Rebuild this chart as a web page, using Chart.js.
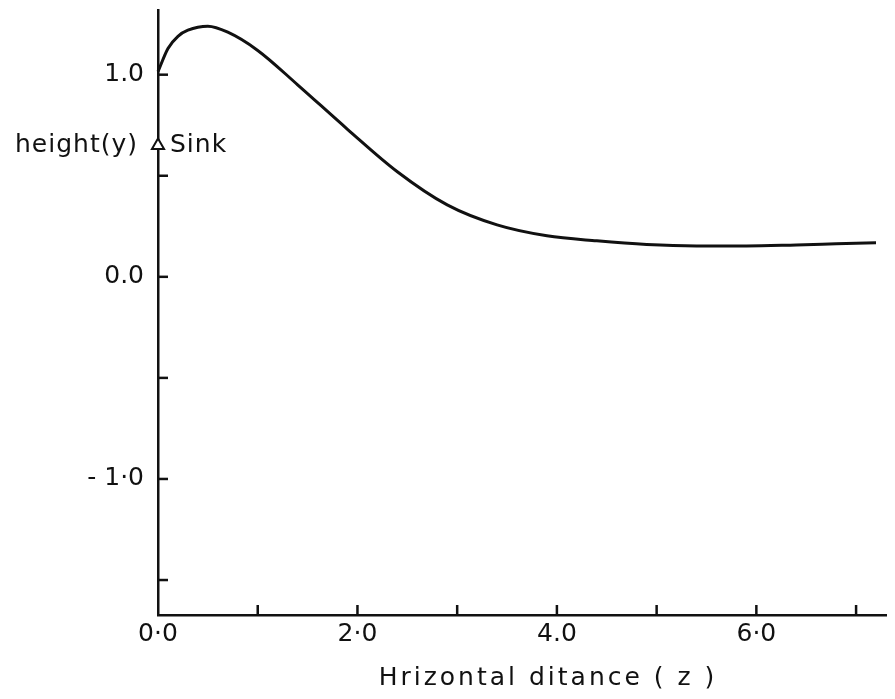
<!DOCTYPE html>
<html>
<head>
<meta charset="utf-8">
<script src="https://cdn.jsdelivr.net/npm/chart.js@4.4.1/dist/chart.umd.min.js"></script>
<style>
  html, body { margin: 0; padding: 0; background: #fff; }
  canvas { display: block; }
</style>
</head>
<body>
<canvas id="myChart" width="895" height="699"></canvas>
<script>
// curve
const zValues = [0, 0.1, 0.2, 0.3, 0.5, 0.7, 1.0, 1.4, 1.9, 2.4, 2.9, 3.4, 3.9, 4.4, 4.9, 5.4, 5.9, 6.4, 6.8, 7.2];
const yValues = [1.015, 1.13, 1.19, 1.22, 1.24, 1.21, 1.12, 0.95, 0.73, 0.52, 0.356, 0.257, 0.203, 0.178, 0.16, 0.153, 0.153, 0.158, 0.163, 0.168];

// sink marker on the y axis
const sinkPoint = [{ x: 0, y: 0.65 }];

// tick labels
const xLabels = { 0: '0·0', 2: '2·0', 4: '4.0', 6: '6·0' };
const yLabels = { '1': '1.0', '0': '0.0', '-1': '- 1·0' };
const xMinorTicks = [1, 2, 3, 4, 5, 6, 7];
const yMinorTicks = [-1.5, -1, -0.5, 0, 0.5, 1];

(() => {
  'use strict'

  const ctx = document.getElementById('myChart');
  const font = "'DejaVu Sans', sans-serif";

  // ticks pointing inward + free text
  const extras = {
    id: 'extras',
    afterDraw(chart) {
      const c = chart.ctx;
      const xs = chart.scales.x;
      const ys = chart.scales.y;
      const area = chart.chartArea;
      c.save();
      c.strokeStyle = '#111';
      c.lineWidth = 2.5;
      xMinorTicks.forEach(v => {
        const px = xs.getPixelForValue(v);
        c.beginPath();
        c.moveTo(px, area.bottom);
        c.lineTo(px, area.bottom - 10);
        c.stroke();
      });
      yMinorTicks.forEach(v => {
        const py = ys.getPixelForValue(v);
        c.beginPath();
        c.moveTo(area.left, py);
        c.lineTo(area.left + 10, py);
        c.stroke();
      });
      const sy = ys.getPixelForValue(sinkPoint[0].y);
      c.fillStyle = '#111';
      c.font = '25px ' + font;
      c.textBaseline = 'middle';
      c.letterSpacing = '1px';
      c.textAlign = 'right';
      c.fillText('height(y)', area.left - 20, sy);
      c.textAlign = 'left';
      c.fillText('Sink', area.left + 12, sy);
      // axis title
      c.font = '25px ' + font;
      c.letterSpacing = '3px';
      c.textAlign = 'center';
      c.fillText('Hrizontal ditance ( z )', 548, 678);
      c.restore();
    }
  };

  const myChart = new Chart(ctx, {
    type: 'scatter',
    data: {
      datasets: [{
        data: zValues.map((z, i) => ({ x: z, y: yValues[i] })),
        showLine: true,
        borderColor: '#111',
        borderWidth: 3,
        pointRadius: 0,
        cubicInterpolationMode: 'monotone',
        clip: false
      }, {
        data: sinkPoint,
        pointStyle: 'triangle',
        pointRadius: 7,
        pointBorderWidth: 2,
        pointBorderColor: '#111',
        pointBackgroundColor: '#fff',
        clip: false
      }]
    },
    options: {
      responsive: false,
      animation: false,
      layout: {
        padding: { top: 10, right: 0, left: 0, bottom: 0 }
      },
      scales: {
        x: {
          type: 'linear',
          min: 0,
          max: 7.3,
          afterFit(scale) {
            scale.height = 84;
            scale.paddingLeft = 0;
            scale.paddingRight = 0;
          },
          grid: { display: false, drawTicks: false },
          border: { display: true, color: '#111', width: 2.5 },
          ticks: {
            stepSize: 1,
            autoSkip: false,
            maxRotation: 0,
            padding: 4,
            color: '#111',
            font: { family: font, size: 25 },
            callback: v => xLabels[v] || ''
          }
        },
        y: {
          type: 'linear',
          min: -1.673,
          max: 1.32,
          afterFit(scale) {
            scale.width = 158;
            scale.paddingTop = 0;
            scale.paddingBottom = 0;
          },
          grid: { display: false, drawTicks: false },
          border: { display: true, color: '#111', width: 2.5 },
          ticks: {
            stepSize: 0.5,
            autoSkip: false,
            padding: 14,
            color: '#111',
            font: { family: font, size: 25 },
            callback: v => yLabels[String(v)] || ''
          }
        }
      },
      plugins: {
        legend: { display: false },
        tooltip: { enabled: false }
      }
    },
    plugins: [extras]
  })
})()
</script>
</body>
</html>
